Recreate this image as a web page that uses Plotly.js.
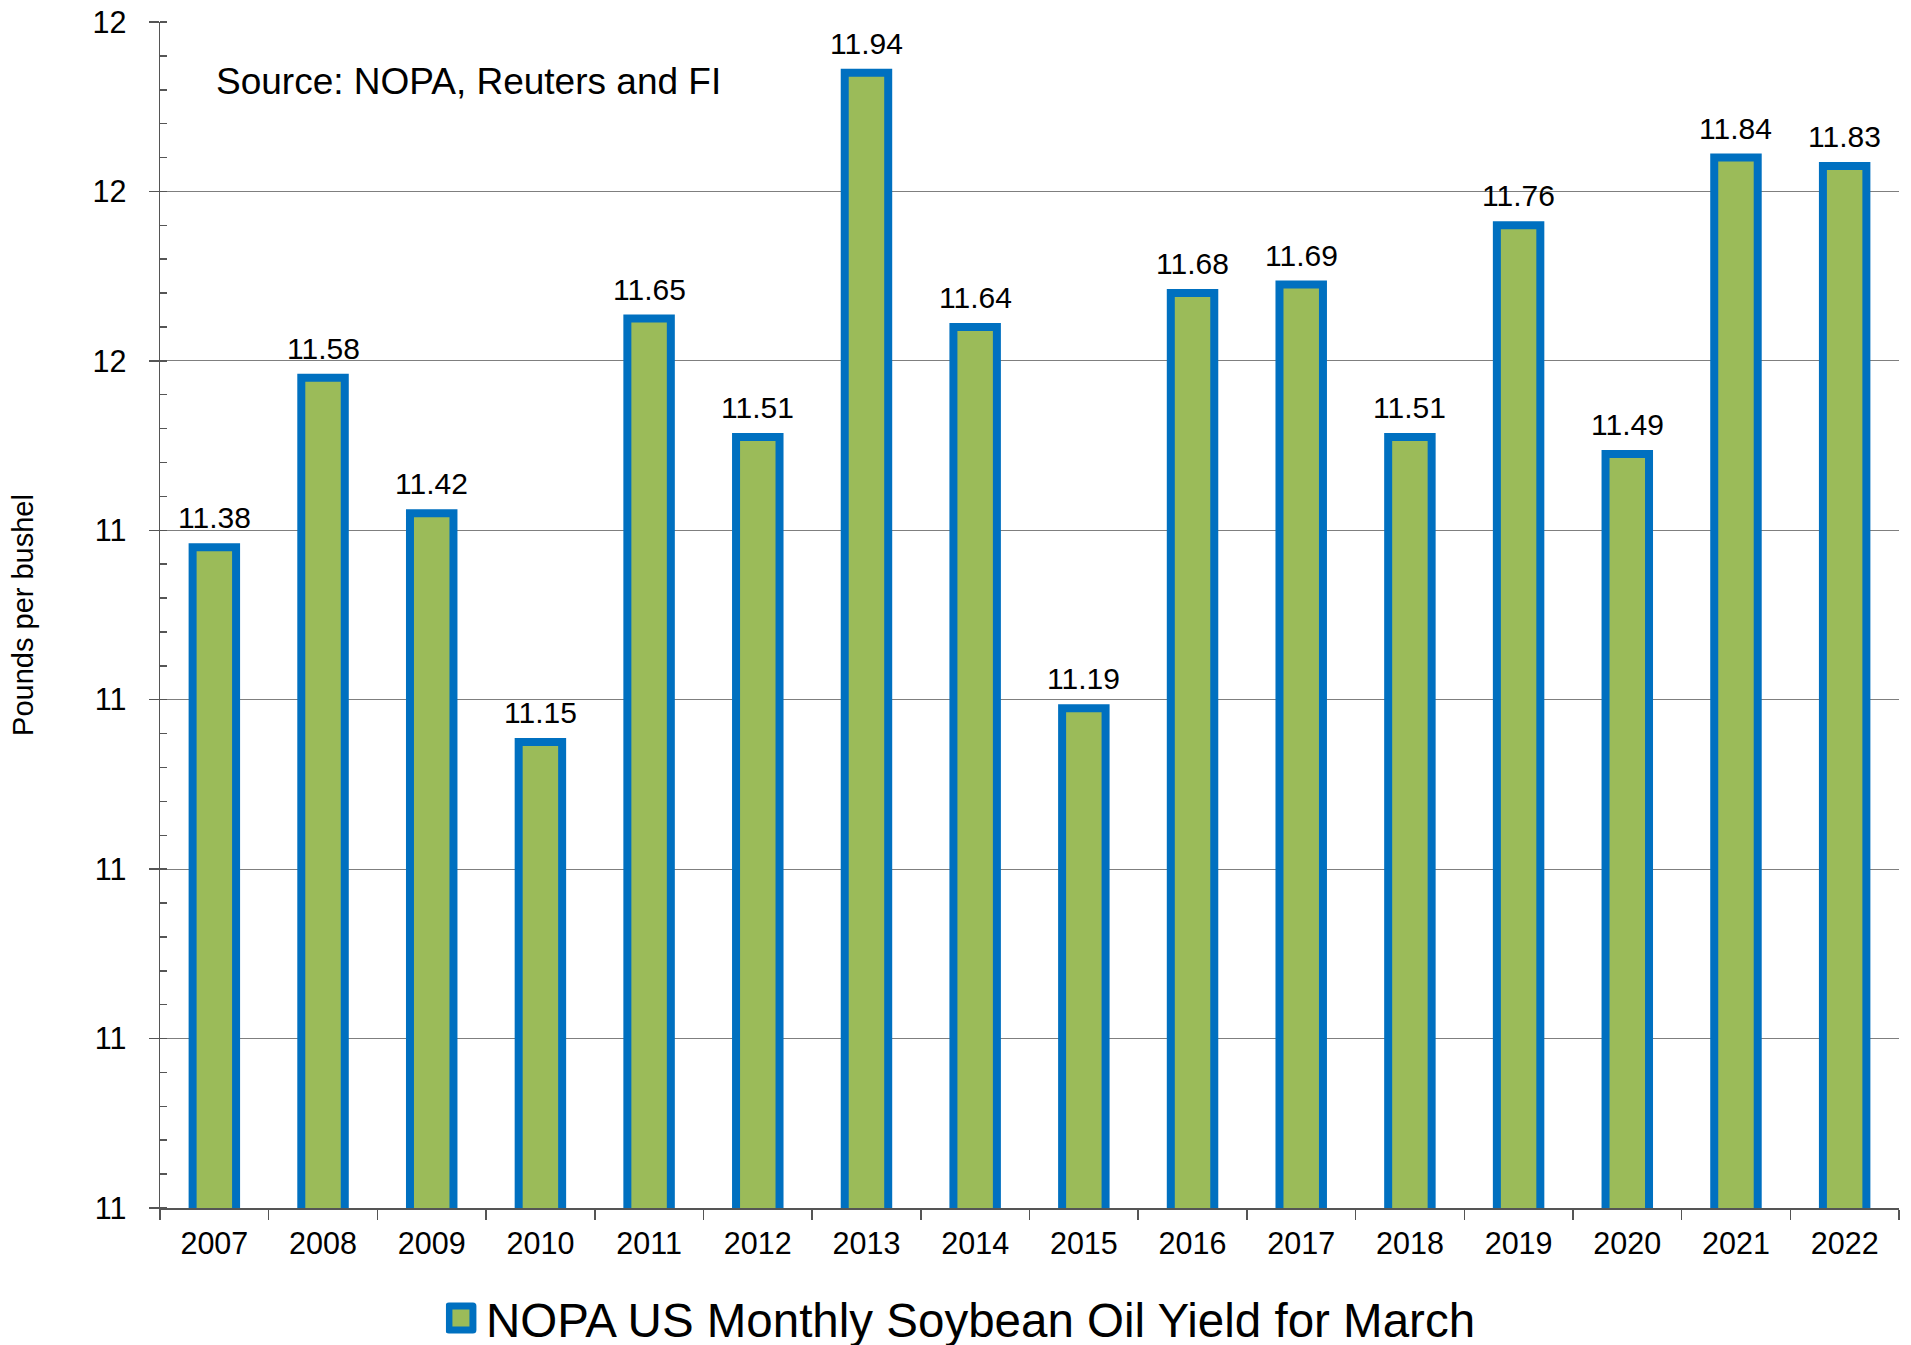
<!DOCTYPE html>
<html>
<head>
<meta charset="utf-8">
<script src="https://cdn.plot.ly/plotly-3.0.1.min.js"></script>
<style>html,body{margin:0;padding:0;background:#fff;}#chart{width:1911px;height:1345px;}</style>
</head>
<body>
<div id="chart"></div>
<script>
const years = ['2007','2008','2009','2010','2011','2012','2013','2014','2015','2016','2017','2018','2019','2020','2021','2022'];
const yieldValues = [11.38,11.58,11.42,11.15,11.65,11.51,11.94,11.64,11.19,11.68,11.69,11.51,11.76,11.49,11.84,11.83];
const labels = yieldValues.map(v => v.toFixed(2));
const seriesName = 'NOPA US Monthly Soybean Oil Yield for March';
const yAxisTitle = 'Pounds per bushel';
const sourceNote = 'Source: NOPA, Reuters and FI';

const FONT = '"Liberation Sans", Arial, sans-serif';

const trace = {
  type: 'bar',
  x: years,
  y: yieldValues,
  name: seriesName,
  marker: {color: '#9BBB59', line: {color: '#0070C0', width: 8}},
  showlegend: true,
  hoverinfo: 'x+y'
};

// value labels placed via the category axis (index of each year) and the y scale
const valueLabels = years.map((yr, i) => ({
  x: i, y: yieldValues[i], xref: 'x', yref: 'y',
  text: labels[i], showarrow: false,
  xanchor: 'center', yanchor: 'bottom', yshift: 11,
  font: {family: FONT, size: 30, color: '#000'}
}));

const layout = {
  width: 1911,
  height: 1345,
  margin: {l: 160, r: 12, t: 22, b: 137},
  paper_bgcolor: '#fff',
  plot_bgcolor: '#fff',
  font: {family: FONT, color: '#000', size: 30},
  bargap: 0.6,
  showlegend: true,
  xaxis: {
    type: 'category',
    categoryorder: 'array',
    categoryarray: years,
    range: [-0.5, years.length - 0.5],
    tickson: 'boundaries',
    ticks: 'outside',
    ticklen: 10,
    tickwidth: 1.5,
    tickcolor: '#555',
    showline: true,
    linecolor: '#555',
    linewidth: 1.5,
    showgrid: false,
    tickfont: {family: FONT, size: 30.5, color: '#000'},
    ticklabelstandoff: 8
  },
  yaxis: {
    range: [10.6, 12.0],
    dtick: 0.2,
    tick0: 10.6,
    tickformat: '.0f',
    ticks: 'outside',
    ticklen: 10,
    tickwidth: 1.5,
    tickcolor: '#555',
    showline: true,
    linecolor: '#555',
    linewidth: 1.5,
    showgrid: true,
    gridcolor: '#7f7f7f',
    gridwidth: 1.2,
    zeroline: false,
    tickfont: {family: FONT, size: 30.5, color: '#000'},
    ticklabelstandoff: 16,
    minor: {ticks: 'inside', ticklen: 7, dtick: 0.04, tickcolor: '#555', tickwidth: 1.5, showgrid: false},
    title: {text: yAxisTitle, font: {family: FONT, size: 29, color: '#000'}, standoff: 50}
  },
  legend: {
    orientation: 'h',
    x: 0.462,
    xanchor: 'center',
    yref: 'container',
    y: 0.02,
    yanchor: 'middle',
    font: {family: FONT, size: 47.5, color: '#000'},
    bgcolor: 'rgba(0,0,0,0)'
  },
  annotations: [{
    text: sourceNote,
    xref: 'paper', yref: 'paper',
    x: 0.031, y: 0.95,
    xanchor: 'left', yanchor: 'middle',
    showarrow: false,
    font: {family: FONT, size: 37, color: '#000'}
  }].concat(valueLabels)
};

Plotly.newPlot('chart', [trace], layout, {displayModeBar: false, staticPlot: true}).then(gd => {
  gd.querySelectorAll('.legendpoints path').forEach(p => {
    p.setAttribute('d', 'M7,12H-17V-12H7Z');
    p.style.strokeWidth = '7px';
    p.style.strokeLinejoin = 'round';
  });
});
</script>
</body>
</html>
